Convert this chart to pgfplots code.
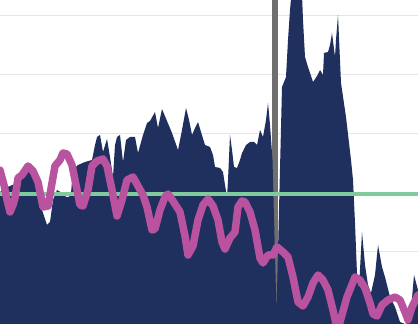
\documentclass[border=0pt]{standalone}
\usepackage{pgfplots}
\pgfplotsset{compat=1.18}
\definecolor{navy}{HTML}{1F2F5E}
\definecolor{magen}{HTML}{B9539F}
\definecolor{grn}{HTML}{7FCB9B}
\definecolor{vgray}{HTML}{6F6F6F}
\definecolor{gridgray}{HTML}{E6E6E6}
\begin{document}
\begin{tikzpicture}
\begin{axis}[
  width=418bp, height=324bp, scale only axis,
  xmin=0, xmax=418, ymin=0, ymax=324,
  axis line style={draw=none},
  xtick=\empty,
  ytick={14,73,132,191,250,309},
  yticklabels={},
  major tick length=0pt,
  ymajorgrids,
  grid style={color=gridgray, line width=0.9bp},
  clip=true,
]
\coordinate (SW) at (rel axis cs:0,0);
\coordinate (NE) at (rel axis cs:1,1);
% vertical marker line
\addplot[vgray, line width=6bp] coordinates {(275,0) (275,324)};
% area
\addplot[fill=navy, draw=none] coordinates {
(0,132)(5,136)(10,138)(15,140)(18,148)(22,154)(28,156)(33,152)(38,146)(42,114)(47,99)(50,102)(53,124)(57,134)(62,131)(66,127)(69,127)(71,131)(73,154)(78,159)(85,162)(92,164)(95,179)(97,187)(100,189)(103,172)(107,185)(110,167)(113,147)(115,179)(117,187)(120,189)(123,162)(126,184)(130,187)(135,187)(138,171)(143,189)(147,201)(150,203)(155,212)(158,196)(162,215)(167,203)(172,191)(178,174)(182,194)(186,216)(189,204)(192,189)(195,196)(198,202)(201,192)(205,179)(210,177)(213,169)(215,157)(220,156)(223,152)(225,139)(227,127)(228,144)(230,189)(232,174)(234,157)(237,156)(240,164)(242,171)(246,179)(250,182)(254,182)(257,179)(260,194)(263,187)(266,204)(268,221)(270,199)(272.5,164)(276.5,12)(282,237)(286,247)(288,284)(290,314)(292,336)(296,326)(298,336)(302,329)(303,304)(305,267)(308,257)(313,242)(317,248)(320,254)(323,249)(324,271)(328,272)(330,279)(332,291)(335,267)(336,284)(338,309)(341,241)(346,207)(351,164)(353,144)(355,101)(357,50)(359,36)(362,92)(365,59)(368,39)(371,31)(375,49)(378,79)(382,57)(385,47)(390,27)(395,17)(400,2)(405,0)(410,2)(414,49)(418,34)
} \closedcycle;
% green reference line
\addplot[grn, line width=4bp] coordinates {(0,130) (418,130)};
% magenta line
\addplot[magen, line width=7.5bp, line join=round, line cap=round] coordinates {
(0,154)(4,139)(7,124)(10,112)(13,119)(15,126)(18,146)(22,149)(28,158)(33,153)(38,142)(43,117)(48,118)(52,141)(55,158)(60,164)(63,171)(67,170)(72,159)(75,144)(80,119)(83,118)(88,134)(92,158)(97,163)(103,165)(107,158)(112,134)(117,108)(122,124)(127,144)(133,147)(138,138)(143,129)(147,117)(152,94)(155,95)(160,114)(165,127)(168,130)(173,123)(180,112)(185,88)(188,69)(193,78)(198,104)(203,119)(208,125)(213,118)(218,104)(222,82)(225,75)(230,86)(235,92)(238,117)(242,123)(245,122)(250,112)(255,94)(260,66)(263,61)(268,69)(273,69)(277,77)(283,72)(288,67)(293,47)(298,22)(303,18)(308,27)(313,41)(318,49)(323,44)(328,34)(333,14)(337,-4)(340,2)(347,27)(355,47)(360,44)(365,36)(370,21)(373,10)(377,8)(382,19)(388,24)(395,27)(400,24)(405,12)(408,4)(412,17)(418,29)
};
\end{axis}
\pgfresetboundingbox
\path (SW) rectangle (NE);
\end{tikzpicture}
\end{document}
